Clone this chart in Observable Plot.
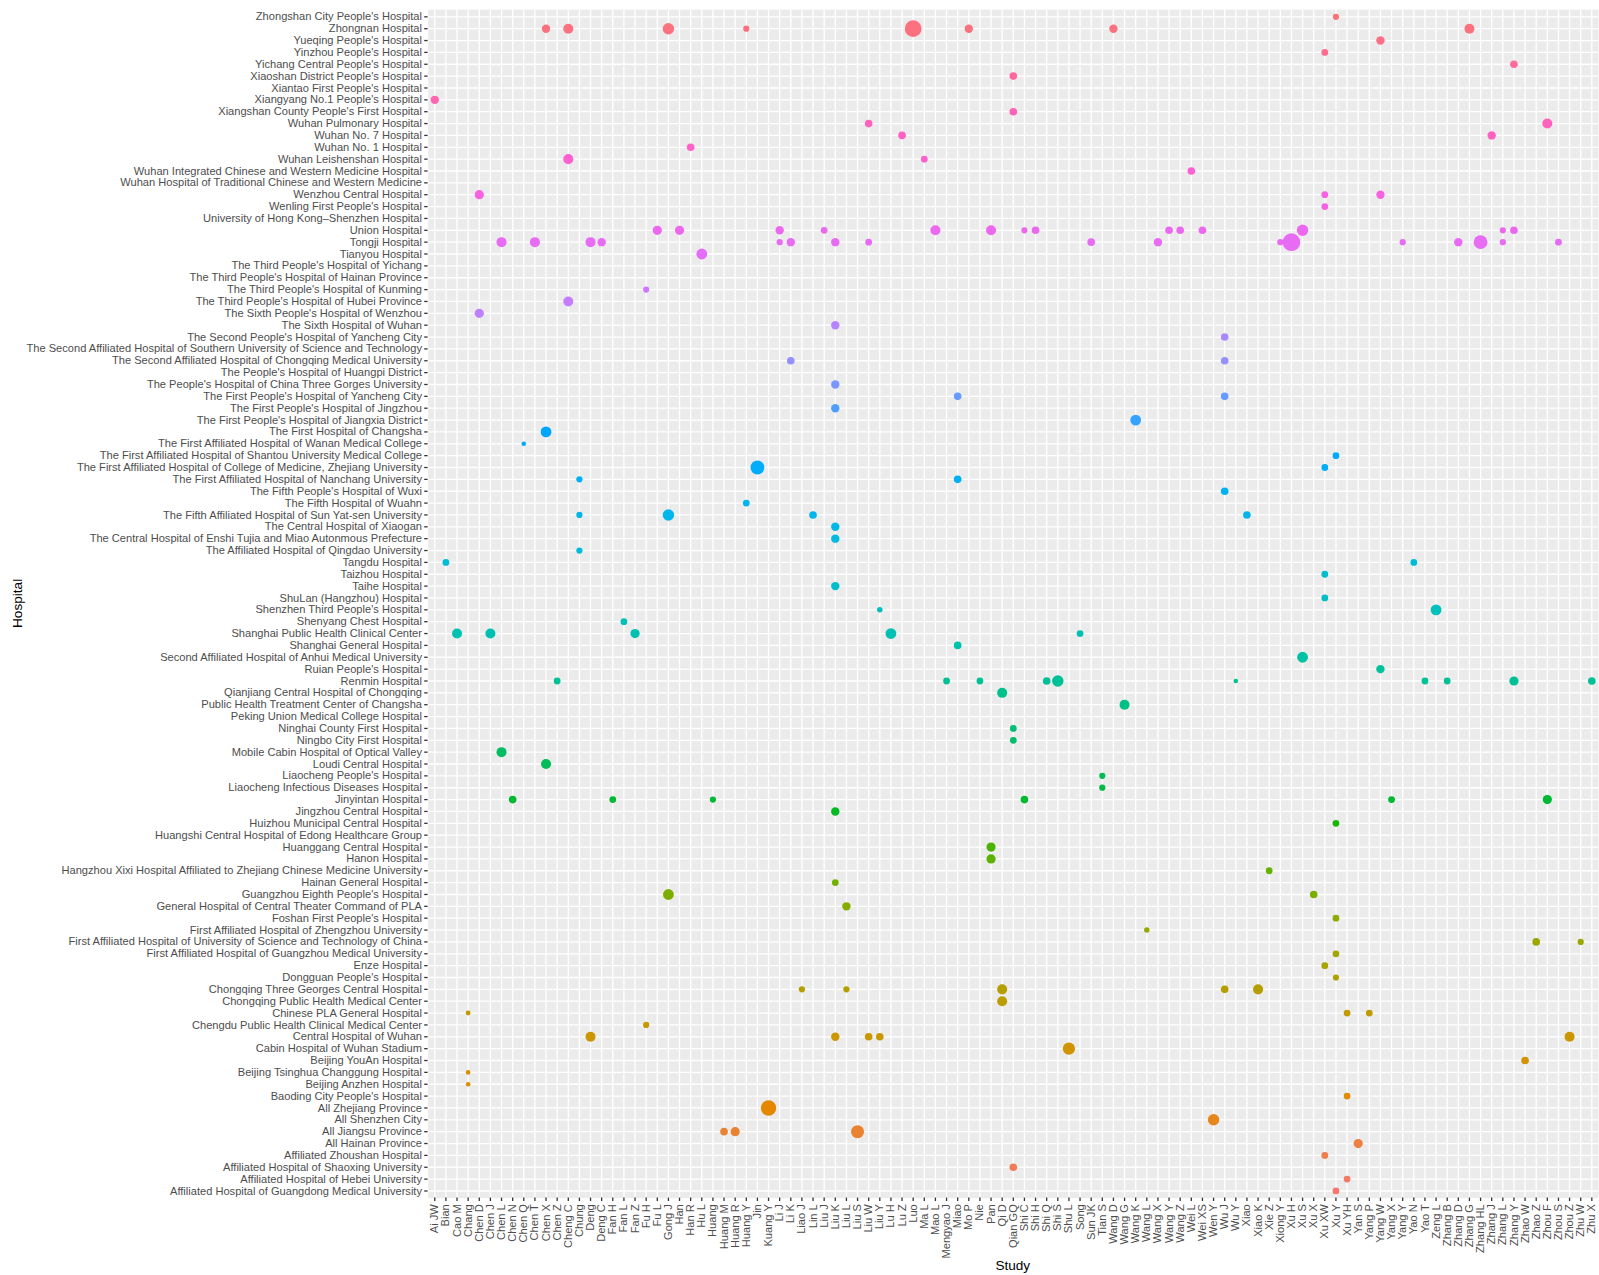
<!DOCTYPE html>
<html>
<head>
<meta charset="utf-8">
<script src="https://cdn.jsdelivr.net/npm/d3@7"></script>
<script src="https://cdn.jsdelivr.net/npm/@observablehq/plot@0.6"></script>
<style>
  html, body { margin: 0; padding: 0; background: #ffffff; overflow: hidden; }
  #chart svg { display: block; }
</style>
</head>
<body>
<div id="chart"></div>
<script>
// Studies (x axis, left to right)
const studies = ["Ai JW","Bian","Cao M","Chang","Chen D","Chen J","Chen L","Chen N","Chen Q","Chen T","Chen X","Chen Z","Cheng C","Chung","Deng","Deng C","Fan H","Fan L","Fan Z","Fu H","Fu L","Gong J","Han","Han R","Hu L","Huang","Huang M","Huang R","Huang Y","Jin","Kuang Y","Li J","Li K","Liao J","Lin L","Liu J","Liu K","Liu L","Liu S","Liu W","Liu Y","Lu H","Lu Z","Luo","Ma L","Mao L","Mengyao J","Miao","Mo P","Nie","Pan","Qi D","Qian GQ","Shi C","Shi H","Shi Q","Shi S","Shu L","Song","Sun JK","Tian S","Wang D","Wang G","Wang K","Wang L","Wang X","Wang Y","Wang Z","Wei L","Wei XS","Wen Y","Wu J","Wu Y","Xiao","Xiao K","Xie Z","Xiong Y","Xu H","Xu S","Xu X","Xu XW","Xu Y","Xu YH","Yan S","Yang P","Yang W","Yang X","Yang Y","Yao N","Yao T","Zeng L","Zhang B","Zhang D","Zhang G","Zhang HL","Zhang J","Zhang L","Zhang Y","Zhao W","Zhao Z","Zhou F","Zhou S","Zhou Z","Zhu W","Zhu X"];

// Hospitals (y axis, top to bottom)
const hospitals = [
"Zhongshan City People's Hospital","Zhongnan Hospital","Yueqing People's Hospital","Yinzhou People's Hospital","Yichang Central People's Hospital","Xiaoshan District People's Hospital","Xiantao First People's Hospital","Xiangyang No.1 People's Hospital","Xiangshan County People's First Hospital","Wuhan Pulmonary Hospital","Wuhan No. 7 Hospital","Wuhan No. 1 Hospital","Wuhan Leishenshan Hospital","Wuhan Integrated Chinese and Western Medicine Hospital","Wuhan Hospital of Traditional Chinese and Western Medicine","Wenzhou Central Hospital","Wenling First People's Hospital","University of Hong Kong–Shenzhen Hospital","Union Hospital","Tongji Hospital","Tianyou Hospital","The Third People's Hospital of Yichang","The Third People's Hospital of Hainan Province","The Third People's Hospital of Kunming","The Third People's Hospital of Hubei Province","The Sixth People's Hospital of Wenzhou","The Sixth Hospital of Wuhan","The Second People's Hospital of Yancheng City","The Second Affiliated Hospital of Southern University of Science and Technology","The Second Affiliated Hospital of Chongqing Medical University","The People's Hospital of Huangpi District","The People's Hospital of China Three Gorges University","The First People's Hospital of Yancheng City","The First People's Hospital of Jingzhou","The First People's Hospital of Jiangxia District","The First Hospital of Changsha","The First Affiliated Hospital of Wanan Medical College","The First Affiliated Hospital of Shantou University Medical College","The First Affiliated Hospital of College of Medicine, Zhejiang University","The First Affiliated Hospital of Nanchang University","The Fifth People's Hospital of Wuxi","The Fifth Hospital of Wuahn","The Fifth Affiliated Hospital of Sun Yat-sen University","The Central Hospital of Xiaogan","The Central Hospital of Enshi Tujia and Miao Autonmous Prefecture","The Affiliated Hospital of Qingdao University","Tangdu Hospital","Taizhou Hospital","Taihe Hospital","ShuLan (Hangzhou) Hospital","Shenzhen Third People's Hospital","Shenyang Chest Hospital","Shanghai Public Health Clinical Center","Shanghai General Hospital","Second Affiliated Hospital of Anhui Medical University","Ruian People's Hospital","Renmin Hospital","Qianjiang Central Hospital of Chongqing","Public Health Treatment Center of Changsha","Peking Union Medical College Hospital","Ninghai County First Hospital","Ningbo City First Hospital","Mobile Cabin Hospital of Optical Valley","Loudi Central Hospital","Liaocheng People's Hospital","Liaocheng Infectious Diseases Hospital","Jinyintan Hospital","Jingzhou Central Hospital","Huizhou Municipal Central Hospital","Huangshi Central Hospital of Edong Healthcare Group","Huanggang Central Hospital","Hanon Hospital","Hangzhou Xixi Hospital Affiliated to Zhejiang Chinese Medicine University","Hainan General Hospital","Guangzhou Eighth People's Hospital","General Hospital of Central Theater Command of PLA","Foshan First People's Hospital","First Affiliated Hospital of Zhengzhou University","First Affiliated Hospital of University of Science and Technology of China","First Affiliated Hospital of Guangzhou Medical University","Enze Hospital","Dongguan People's Hospital","Chongqing Three Georges Central Hospital","Chongqing Public Health Medical Center","Chinese PLA General Hospital","Chengdu Public Health Clinical Medical Center","Central Hospital of Wuhan","Cabin Hospital of Wuhan Stadium","Beijing YouAn Hospital","Beijing Tsinghua Changgung Hospital","Beijing Anzhen Hospital","Baoding City People's Hospital","All Zhejiang Province","All Shenzhen City","All Jiangsu Province","All Hainan Province","Affiliated Zhoushan Hospital","Affiliated Hospital of Shaoxing University","Affiliated Hospital of Hebei University","Affiliated Hospital of Guangdong Medical University"];

// Observations: [hospital index (top to bottom), study, estimated sample size]
const observations = [
[0,"Xu Y",110],
[1,"Chen X",200],[1,"Cheng C",285],[1,"Gong J",370],[1,"Huang Y",110],[1,"Luo",800],[1,"Mo P",200],[1,"Wang D",200],[1,"Zhang G",285],
[2,"Yang W",200],
[3,"Xu XW",130],
[4,"Zhang Y",165],
[5,"Qian GQ",165],
[7,"Ai JW",200],
[8,"Qian GQ",165],
[9,"Liu W",165],[9,"Zhou F",285],
[10,"Lu Z",165],[10,"Zhang J",200],
[11,"Han R",165],
[12,"Cheng C",285],[12,"Ma L",130],
[13,"Wei L",165],
[15,"Chen D",240],[15,"Xu XW",130],[15,"Yang W",200],
[16,"Xu XW",130],
[18,"Fu L",240],[18,"Han",240],[18,"Li J",200],[18,"Liu J",130],[18,"Mao L",285],[18,"Pan",285],[18,"Shi C",110],[18,"Shi H",165],[18,"Wang Y",165],[18,"Wang Z",165],[18,"Wei XS",165],[18,"Xu S",370],[18,"Zhang L",110],[18,"Zhang Y",165],
[19,"Chen L",285],[19,"Chen T",285],[19,"Deng",285],[19,"Deng C",200],[19,"Li J",110],[19,"Li K",200],[19,"Liu K",200],[19,"Liu W",130],[19,"Sun JK",165],[19,"Wang X",200],[19,"Xiong Y",110],[19,"Xu H",880],[19,"Yang Y",110],[19,"Zhang D",200],[19,"Zhang HL",540],[19,"Zhang L",110],[19,"Zhou S",130],
[20,"Hu L",330],
[23,"Fu H",110],
[24,"Cheng C",285],
[25,"Chen D",240],
[26,"Liu K",200],
[27,"Wu J",165],
[29,"Li K",165],[29,"Wu J",165],
[31,"Liu K",200],
[32,"Miao",165],[32,"Wu J",165],
[33,"Liu K",200],
[34,"Wang K",330],
[35,"Chen X",330],
[36,"Chen Q",60],
[37,"Xu Y",130],
[38,"Jin",540],[38,"Xu XW",130],
[39,"Chung",110],[39,"Miao",165],
[40,"Wu J",165],
[41,"Huang Y",130],
[42,"Chung",110],[42,"Gong J",370],[42,"Lin L",165],[42,"Xiao",165],
[43,"Liu K",200],
[44,"Liu K",200],
[45,"Chung",110],
[46,"Bian",130],[46,"Yao N",130],
[47,"Xu XW",130],
[48,"Liu K",200],
[49,"Xu XW",130],
[50,"Liu Y",85],[50,"Zeng L",330],
[51,"Fan L",130],
[52,"Cao M",285],[52,"Chen J",285],[52,"Fan Z",240],[52,"Lu H",330],[52,"Song",130],
[53,"Miao",165],
[54,"Xu S",330],
[55,"Yang W",200],
[56,"Chen Z",130],[56,"Mengyao J",130],[56,"Nie",130],[56,"Shi Q",165],[56,"Shi S",370],[56,"Wu Y",60],[56,"Yao T",130],[56,"Zhang B",130],[56,"Zhang Y",240],[56,"Zhu X",165],
[57,"Qi D",285],
[58,"Wang G",285],
[60,"Qian GQ",130],
[61,"Qian GQ",130],
[62,"Chen L",285],
[63,"Chen X",285],
[64,"Tian S",110],
[65,"Tian S",110],
[66,"Chen N",165],[66,"Fan H",130],[66,"Huang",110],[66,"Shi C",165],[66,"Yang X",130],[66,"Zhou F",240],
[67,"Liu K",200],
[68,"Xu Y",130],
[70,"Pan",240],
[71,"Pan",240],
[72,"Xie Z",130],
[73,"Liu K",130],
[74,"Gong J",330],[74,"Xu X",165],
[75,"Liu L",200],
[76,"Xu Y",130],
[77,"Wang L",85],
[78,"Zhao Z",165],[78,"Zhu W",110],
[79,"Xu Y",130],
[80,"Xu XW",130],
[81,"Xu Y",110],
[82,"Liao J",110],[82,"Liu L",110],[82,"Qi D",285],[82,"Wu J",165],[82,"Xiao K",285],
[83,"Qi D",285],
[84,"Chang",70],[84,"Xu YH",130],[84,"Yang P",130],
[85,"Fu H",110],
[86,"Deng",285],[86,"Liu K",200],[86,"Liu W",165],[86,"Liu Y",165],[86,"Zhou Z",285],
[87,"Shu L",420],
[88,"Zhao W",165],
[89,"Chang",60],
[90,"Chang",60],
[91,"Xu YH",130],
[92,"Kuang Y",670],
[93,"Wen Y",370],
[94,"Huang M",165],[94,"Huang R",240],[94,"Liu S",480],
[95,"Yan S",240],
[96,"Xu XW",130],
[97,"Qian GQ",165],
[98,"Xu YH",130],
[99,"Xu Y",130]
];

// ggplot2-style hue palette (polar CIE-LUV, like R's hcl())
function hclR(h, c, l) {
  const hr = h * Math.PI / 180;
  const U = c * Math.cos(hr), V = c * Math.sin(hr);
  const un = 0.1978398, vn = 0.4683363;
  const Y = l > 8 ? Math.pow((l + 16) / 116, 3) : l / 903.3;
  const u = U / (13 * l) + un, v = V / (13 * l) + vn;
  const X = 9 * Y * u / (4 * v);
  const Z = -X / 3 - 5 * Y + 3 * Y / v;
  const lin = [
    3.240479 * X - 1.537150 * Y - 0.498535 * Z,
    -0.969256 * X + 1.875992 * Y + 0.041556 * Z,
    0.055648 * X - 0.204043 * Y + 1.057311 * Z
  ];
  const g = t => { t = t <= 0.0031308 ? 12.92 * t : 1.055 * Math.pow(t, 1 / 2.4) - 0.055; return Math.round(255 * Math.max(0, Math.min(1, t))); };
  return d3.rgb(g(lin[0]), g(lin[1]), g(lin[2])).formatHex();
}
const nLevels = hospitals.length;
const colorOf = new Map(hospitals.map((h, i) => {
  const k = nLevels - 1 - i; // factor level index (alphabetical, bottom to top)
  return [h, hclR((15 + 360 * k / nLevels) % 360, 100, 65)];
}));

const data = observations.map(([hi, study, n]) => ({hospital: hospitals[hi], study, n}));

const W = 1599, H = 1275;
const mL = 427.6, mR = 1, mT = 9.2, mB = 77.4;
const font = "'Liberation Sans', Arial, Helvetica, sans-serif";

const chart = Plot.plot({
  width: W, height: H,
  marginLeft: mL, marginRight: mR, marginTop: mT, marginBottom: mB,
  style: {fontFamily: font, fontSize: "11.1px", background: "white", color: "#000"},
  x: {type: "point", domain: studies, padding: 0.6, round: false, label: null},
  y: {type: "point", domain: hospitals, padding: 0.6, round: false, label: null},
  r: {type: "sqrt", domain: [0, 1000], range: [0, 9.4]},
  color: {type: "identity"},
  marks: [
    Plot.frame({fill: "#EBEBEB", stroke: null}),
    Plot.gridX({stroke: "#ffffff", strokeOpacity: 1, strokeWidth: 1.3}),
    Plot.gridY({stroke: "#ffffff", strokeOpacity: 1, strokeWidth: 1.3}),
    Plot.axisX({tickRotate: -90, tickSize: 3.4, tickPadding: 2.7, fontSize: 11.1, fill: "#4D4D4D", stroke: "#333333", strokeWidth: 1.3, label: null}),
    Plot.axisY({tickSize: 3.4, tickPadding: 2.7, fontSize: 11.1, fill: "#4D4D4D", stroke: "#333333", strokeWidth: 1.3, label: null}),
    Plot.dot(data, {x: "study", y: "hospital", r: "n", fill: d => colorOf.get(d.hospital), stroke: null})
  ]
});

document.getElementById("chart").appendChild(chart);

// Axis titles
const svg = d3.select(chart);
svg.append("text")
  .attr("x", (mL + (W - mR)) / 2)
  .attr("y", 1266)
  .attr("text-anchor", "middle")
  .attr("dominant-baseline", "middle")
  .style("font-family", font)
  .style("font-size", "13.6px")
  .attr("fill", "#000")
  .text("Study");
svg.append("text")
  .attr("transform", `translate(18,${(mT + (H - mB)) / 2}) rotate(-90)`)
  .attr("text-anchor", "middle")
  .attr("dominant-baseline", "middle")
  .style("font-family", font)
  .style("font-size", "13.6px")
  .attr("fill", "#000")
  .text("Hospital");
</script>
</body>
</html>
